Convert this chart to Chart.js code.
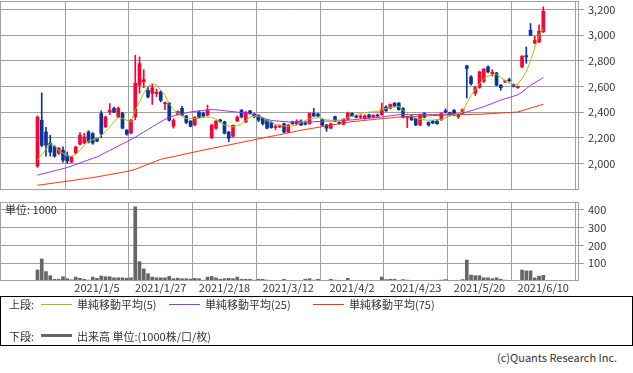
<!DOCTYPE html>
<html lang="ja">
<head>
<meta charset="utf-8">
<script src="https://cdn.jsdelivr.net/npm/chart.js@4.4.1/dist/chart.umd.min.js"></script>
<style>
  html, body { margin: 0; padding: 0; background: #fff; }
  body { width: 633px; height: 373px; position: relative; overflow: hidden;
         font-family: "Noto Sans CJK JP", "Noto Sans", sans-serif; font-size: 11px; color: #333; }
  canvas { position: absolute; left: 0; }
  #main { top: 0; }
  #vol { top: 200px; }
  .abs { position: absolute; white-space: nowrap; line-height: 12px; }
  #legend { position: absolute; left: 0; top: 296px; width: 631px; height: 48px; border: 1px solid #000; }
  .swatch { position: absolute; height: 1px; width: 31px; }
</style>
</head>
<body>
<canvas id="main" width="633" height="190"></canvas>
<canvas id="vol" width="633" height="100"></canvas>
<div class="abs" style="left:5px; top:203px;">単位: 1000</div>

<div id="legend">
  <div class="abs" style="left:8px; top:1px;">上段:</div>
  <div class="swatch" style="left:40px; top:7px; background:#99cc00;"></div>
  <div class="abs" style="left:76px; top:1px;">単純移動平均(5)</div>
  <div class="swatch" style="left:168px; top:7px; background:#9933ff;"></div>
  <div class="abs" style="left:204px; top:1px;">単純移動平均(25)</div>
  <div class="swatch" style="left:312px; top:7px; background:#ff3300;"></div>
  <div class="abs" style="left:348px; top:1px;">単純移動平均(75)</div>
  <div class="abs" style="left:8px; top:33px;">下段:</div>
  <div class="swatch" style="left:40px; top:37px; height:3px; background:#666;"></div>
  <div class="abs" style="left:76px; top:33px;">出来高 単位:(1000株/口/枚)</div>
</div>
<div class="abs" style="left:497px; top:351px;">(c)Quants Research Inc.</div>

<script>
// trading-day index 0 = 2020/12/14 ... 119 = 2021/6/10
const tickIndex = [14, 29, 44, 59, 74, 89, 104, 119];
const tickLabels = ["2021/1/5", "2021/1/27", "2021/2/18", "2021/3/12", "2021/4/2", "2021/4/23", "2021/5/20", "2021/6/10"];
const priceTicks = [2000, 2200, 2400, 2600, 2800, 3000, 3200];
const volumeTicks = [100, 200, 300, 400];

const open = [1980,2337,2246,2158,2130,2080,2103,2060,2012,2082,2150,2160,2246,2233,2195,2389,2285,2402,2430,2362,
  2390,2259,2236,2362,2609,2635,2570,2545,2545,2557,2465,2470,2290,2385,2430,2370,2330,2300,2400,2390,
  2376,2200,2275,2340,2325,2245,2212,2330,2415,2323,2410,2385,2376,2350,2337,2320,2280,2285,2310,2246,
  2320,2305,2330,2315,2310,2390,2385,2340,2300,2275,2365,2320,2305,2345,2390,2370,2360,2350,2380,2360,
  2375,2380,2440,2430,2470,2470,2430,2355,2370,2350,2300,2390,2320,2330,2330,2340,2410,2395,2415,2365,
  2390,2760,2674,2546,2593,2640,2752,2700,2705,2610,2635,2650,2615,2590,2752,2840,3037,2938,2946,3024];
const high = [2370,2550,2282,2220,2140,2125,2130,2090,2055,2135,2240,2235,2255,2240,2200,2410,2370,2467,2440,2440,
  2400,2265,2345,2843,2830,2730,2600,2620,2580,2565,2478,2475,2350,2410,2445,2375,2335,2365,2410,2400,
  2455,2305,2335,2345,2330,2250,2300,2370,2420,2405,2415,2390,2380,2355,2340,2325,2300,2300,2315,2305,
  2330,2340,2340,2325,2395,2430,2390,2345,2305,2315,2370,2325,2350,2400,2395,2375,2380,2380,2385,2380,
  2385,2470,2450,2465,2475,2475,2435,2370,2375,2355,2385,2395,2325,2335,2335,2395,2425,2400,2420,2385,
  2425,2765,2685,2600,2720,2740,2760,2730,2710,2615,2650,2665,2620,2605,2840,2907,3090,2990,3080,3220];
const low = [1969,2130,2057,2057,2050,2070,2010,2000,2005,2075,2145,2155,2160,2150,2170,2200,2280,2380,2395,2355,
  2270,2220,2230,2340,2547,2590,2510,2460,2520,2480,2420,2330,2275,2380,2370,2310,2285,2295,2355,2360,
  2370,2195,2265,2320,2230,2170,2205,2325,2355,2318,2385,2355,2325,2300,2270,2275,2265,2280,2240,2240,
  2305,2300,2295,2300,2305,2365,2365,2295,2250,2270,2325,2305,2300,2340,2365,2355,2350,2345,2355,2355,
  2365,2375,2405,2425,2440,2415,2355,2280,2335,2295,2295,2355,2290,2310,2305,2335,2395,2375,2370,2350,
  2385,2510,2610,2530,2585,2630,2705,2680,2605,2570,2630,2635,2595,2585,2745,2780,2995,2930,2940,3020];
const close = [2362,2142,2142,2088,2057,2119,2026,2020,2051,2129,2220,2207,2168,2160,2175,2233,2362,2415,2400,2430,
  2275,2228,2337,2625,2778,2653,2518,2590,2555,2492,2475,2337,2335,2405,2376,2320,2290,2360,2360,2370,
  2415,2298,2330,2330,2235,2197,2298,2362,2362,2400,2390,2365,2337,2310,2275,2280,2288,2295,2246,2300,
  2310,2330,2300,2305,2390,2370,2370,2300,2275,2310,2330,2310,2345,2390,2370,2360,2370,2370,2360,2375,
  2370,2420,2410,2460,2445,2420,2360,2365,2340,2300,2380,2360,2300,2315,2310,2390,2400,2380,2376,2380,
  2420,2740,2622,2593,2713,2735,2713,2710,2610,2590,2645,2645,2600,2600,2835,2830,2998,2960,3030,3185];

const ma5 = [2026,2070,2110,2155,2140,2100,2080,2060,2057,2070,2103,2140,2176,2185,2195,2215,2250,2285,2325,2362,
  2350,2337,2324,2415,2480,2547,2600,2620,2612,2570,2530,2465,2420,2392,2370,2350,2350,2350,2352,2358,
  2362,2360,2345,2320,2300,2292,2285,2295,2308,2335,2362,2368,2370,2360,2335,2320,2305,2298,2292,2290,
  2292,2300,2320,2335,2348,2352,2357,2350,2340,2337,2337,2337,2345,2358,2368,2380,2389,2396,2400,2402,
  2405,2415,2428,2436,2442,2445,2415,2390,2365,2352,2345,2340,2337,2338,2342,2345,2355,2368,2378,2388,
  2400,2470,2530,2575,2622,2660,2680,2690,2695,2670,2645,2625,2609,2618,2660,2715,2800,2900,2995,3050];
const ma25 = [1909,1918,1926,1935,1943,1952,1960,1969,1980,1992,2004,2016,2028,2040,2051,2068,2085,2102,2119,2136,
  2153,2170,2187,2205,2225,2245,2265,2285,2305,2324,2343,2362,2370,2378,2386,2394,2401,2405,2409,2413,
  2418,2420,2418,2415,2411,2407,2404,2400,2397,2393,2389,2378,2367,2356,2345,2335,2332,2330,2327,2324,
  2324,2324,2324,2324,2324,2325,2327,2328,2330,2331,2332,2333,2335,2337,2340,2343,2346,2349,2352,2356,
  2359,2362,2367,2372,2376,2381,2381,2381,2381,2381,2381,2381,2381,2381,2382,2383,2385,2386,2387,2389,
  2395,2401,2411,2421,2432,2442,2455,2468,2481,2494,2504,2514,2524,2535,2555,2582,2609,2629,2649,2669];
const ma75 = [1831,1835,1840,1844,1849,1853,1858,1862,1867,1872,1877,1882,1886,1891,1896,1902,1908,1914,1920,1926,
  1932,1938,1945,1955,1968,1981,1994,2007,2020,2033,2040,2047,2054,2061,2068,2076,2083,2090,2097,2104,
  2111,2118,2124,2131,2138,2144,2151,2158,2165,2171,2178,2185,2192,2198,2205,2212,2218,2225,2232,2239,
  2245,2252,2259,2265,2270,2276,2282,2287,2293,2299,2304,2310,2316,2321,2326,2329,2332,2336,2339,2342,
  2346,2349,2352,2355,2359,2362,2363,2365,2366,2367,2369,2370,2371,2373,2374,2375,2377,2378,2379,2381,
  2381,2381,2382,2383,2384,2385,2387,2389,2391,2393,2395,2397,2399,2401,2411,2421,2431,2441,2451,2461];
const volume = [62,124,53,30,10,10,24,13,7,22,15,10,5,22,15,28,24,24,18,18,
  18,16,18,418,109,68,41,22,18,18,18,26,13,16,13,13,11,15,13,5,
  22,26,18,10,13,15,13,22,10,10,10,5,10,10,5,4,4,3,10,4,
  3,3,3,10,13,5,10,4,3,10,5,3,4,15,3,3,3,2,3,2,
  3,22,8,10,10,4,8,5,3,3,3,4,3,3,2,5,8,3,3,4,
  8,118,33,30,30,18,18,13,18,10,5,3,3,4,62,57,57,18,27,32];

const UP = "#ff0033", DOWN = "#0b3399", GRID = "#a0a0a0";
const xMin = -8.82, xMax = 127.4;
const candleColors = close.map((c, i) => (c >= open[i] ? UP : DOWN));
const pts = arr => arr.map((v, i) => ({ x: i, y: v }));

const frame = {
  id: "frame",
  afterDraw(chart) {
    const { ctx, chartArea: a } = chart;
    ctx.save();
    ctx.strokeStyle = GRID;
    ctx.lineWidth = 1;
    ctx.strokeRect(a.left + 0.5, a.top + 0.5, a.right - a.left - 1, a.bottom - a.top - 1);
    ctx.restore();
  }
};

const font = { family: '"Noto Sans CJK JP", "Noto Sans", sans-serif', size: 11 };

// labels sit away from the plot edges, so no extra room is needed for them
const noPad = s => { s.paddingTop = 0; s.paddingBottom = 0; s.paddingLeft = 0; s.paddingRight = 0; };

const xScale = (showLabels) => ({
  type: "linear",
  min: xMin,
  max: xMax,
  offset: false,
  afterBuildTicks: s => { s.ticks = tickIndex.map(v => ({ value: v })); },
  ticks: {
    display: showLabels,
    autoSkip: false,
    maxRotation: 0,
    padding: 0,
    color: "#333",
    font,
    callback: v => tickLabels[tickIndex.indexOf(v)] || ""
  },
  grid: { color: GRID, drawTicks: false },
  border: { display: false },
  afterFit: s => { s.height = showLabels ? 19 : 0; noPad(s); }
});

const yScale = (min, max, ticks, fmt) => ({
  position: "right",
  min, max,
  afterBuildTicks: s => { s.ticks = ticks.map(v => ({ value: v })); },
  ticks: { color: "#333", font, padding: 4, callback: fmt },
  grid: { color: GRID, tickLength: 5 },
  border: { display: false },
  afterFit: s => { s.width = 54; noPad(s); }
});

const line = (label, data, color) => ({
  type: "line", label, data: pts(data), borderColor: color, borderWidth: 1,
  pointRadius: 0, tension: 0, order: 0
});

new Chart(document.getElementById("main"), {
  type: "bar",
  data: {
    datasets: [
      line("単純移動平均(5)", ma5, "#99cc00"),
      line("単純移動平均(25)", ma25, "#9933ff"),
      line("単純移動平均(75)", ma75, "#ff3300"),
      {
        label: "body",
        data: open.map((o, i) => ({ x: i, y: [o, close[i]] })),
        backgroundColor: candleColors,
        barThickness: 3, minBarLength: 1, grouped: false, order: 1
      },
      {
        label: "wick",
        data: low.map((l, i) => ({ x: i, y: [l, high[i]] })),
        backgroundColor: candleColors,
        barThickness: 1, grouped: false, order: 2
      }
    ]
  },
  options: {
    animation: false, responsive: false,
    layout: { padding: { top: 1, left: 0, right: 0, bottom: 0 } },
    plugins: { legend: { display: false }, tooltip: { enabled: false } },
    scales: {
      x: xScale(false),
      y: yScale(1794, 3265, priceTicks, v => v.toLocaleString("en-US"))
    }
  },
  plugins: [frame]
});

new Chart(document.getElementById("vol"), {
  type: "bar",
  data: {
    datasets: [{
      label: "出来高",
      data: pts(volume),
      backgroundColor: "#666666",
      barThickness: 3, grouped: false
    }]
  },
  options: {
    animation: false, responsive: false,
    layout: { padding: { top: 2, left: 0, right: 0, bottom: 0 } },
    plugins: { legend: { display: false }, tooltip: { enabled: false } },
    scales: {
      x: xScale(true),
      y: yScale(0, 445, volumeTicks, v => String(v))
    }
  },
  plugins: [frame]
});
</script>
</body>
</html>
